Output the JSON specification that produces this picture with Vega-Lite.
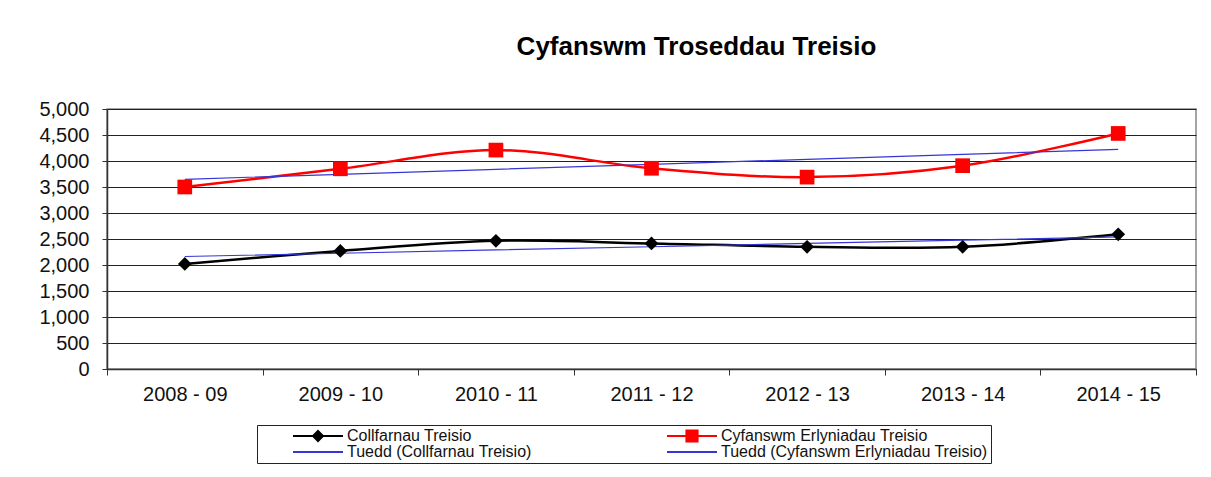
{
  "$schema": "https://vega.github.io/schema/vega-lite/v6.json",
  "width": 1089,
  "height": 260,
  "autosize": {"type": "none"},
  "padding": {"left": 107, "top": 109, "right": 15, "bottom": 108},
  "background": "white",
  "title": {
    "text": "Cyfanswm Troseddau Treisio",
    "font": "Liberation Sans",
    "fontSize": 26,
    "fontWeight": "bold",
    "color": "black",
    "anchor": "middle",
    "frame": "group",
    "dx": 45,
    "baseline": "alphabetic",
    "offset": 18
  },
  "data": {
    "values": [
      {"year": "2008 - 09", "series": "Collfarnau Treisio", "value": 2020},
      {"year": "2009 - 10", "series": "Collfarnau Treisio", "value": 2270},
      {"year": "2010 - 11", "series": "Collfarnau Treisio", "value": 2465},
      {"year": "2011 - 12", "series": "Collfarnau Treisio", "value": 2415},
      {"year": "2012 - 13", "series": "Collfarnau Treisio", "value": 2350},
      {"year": "2013 - 14", "series": "Collfarnau Treisio", "value": 2350},
      {"year": "2014 - 15", "series": "Collfarnau Treisio", "value": 2590},
      {"year": "2008 - 09", "series": "Cyfanswm Erlyniadau Treisio", "value": 3500},
      {"year": "2009 - 10", "series": "Cyfanswm Erlyniadau Treisio", "value": 3850},
      {"year": "2010 - 11", "series": "Cyfanswm Erlyniadau Treisio", "value": 4210},
      {"year": "2011 - 12", "series": "Cyfanswm Erlyniadau Treisio", "value": 3860},
      {"year": "2012 - 13", "series": "Cyfanswm Erlyniadau Treisio", "value": 3690},
      {"year": "2013 - 14", "series": "Cyfanswm Erlyniadau Treisio", "value": 3910},
      {"year": "2014 - 15", "series": "Cyfanswm Erlyniadau Treisio", "value": 4530},
      {"year": "2008 - 09", "series": "Tuedd (Collfarnau Treisio)", "value": 2163},
      {"year": "2009 - 10", "series": "Tuedd (Collfarnau Treisio)", "value": 2226},
      {"year": "2010 - 11", "series": "Tuedd (Collfarnau Treisio)", "value": 2289},
      {"year": "2011 - 12", "series": "Tuedd (Collfarnau Treisio)", "value": 2351},
      {"year": "2012 - 13", "series": "Tuedd (Collfarnau Treisio)", "value": 2414},
      {"year": "2013 - 14", "series": "Tuedd (Collfarnau Treisio)", "value": 2477},
      {"year": "2014 - 15", "series": "Tuedd (Collfarnau Treisio)", "value": 2540},
      {"year": "2008 - 09", "series": "Tuedd (Cyfanswm Erlyniadau Treisio)", "value": 3648},
      {"year": "2009 - 10", "series": "Tuedd (Cyfanswm Erlyniadau Treisio)", "value": 3744},
      {"year": "2010 - 11", "series": "Tuedd (Cyfanswm Erlyniadau Treisio)", "value": 3840},
      {"year": "2011 - 12", "series": "Tuedd (Cyfanswm Erlyniadau Treisio)", "value": 3936},
      {"year": "2012 - 13", "series": "Tuedd (Cyfanswm Erlyniadau Treisio)", "value": 4032},
      {"year": "2013 - 14", "series": "Tuedd (Cyfanswm Erlyniadau Treisio)", "value": 4128},
      {"year": "2014 - 15", "series": "Tuedd (Cyfanswm Erlyniadau Treisio)", "value": 4224}
    ]
  },
  "encoding": {
    "x": {
      "field": "year",
      "type": "ordinal",
      "sort": null,
      "scale": {"type": "band", "paddingInner": 0, "paddingOuter": 0},
      "axis": {
        "title": null,
        "labelAngle": 0,
        "labelFont": "Liberation Sans",
        "labelFontSize": 20,
        "labelColor": "#111",
        "labelPadding": 9,
        "tickBand": "extent",
        "tickSize": 6,
        "tickColor": "#333",
        "domainColor": "#333",
        "domainWidth": 1.5,
        "grid": false
      }
    },
    "y": {
      "field": "value",
      "type": "quantitative",
      "scale": {"domain": [0, 5000], "nice": false},
      "axis": {
        "title": null,
        "values": [0, 500, 1000, 1500, 2000, 2500, 3000, 3500, 4000, 4500, 5000],
        "format": ",d",
        "labelFont": "Liberation Sans",
        "labelFontSize": 20,
        "labelColor": "#111",
        "labelPadding": 13,
        "tickSize": 5,
        "tickColor": "#333",
        "domainColor": "#333",
        "domainWidth": 1.5,
        "grid": true,
        "gridColor": "#222",
        "gridWidth": 1.2
      }
    }
  },
  "layer": [
    {
      "transform": [{"filter": "datum.series === 'Collfarnau Treisio' || datum.series === 'Cyfanswm Erlyniadau Treisio'"}],
      "mark": {"type": "line", "interpolate": "catmull-rom", "strokeWidth": 2.5},
      "encoding": {
        "color": {
          "field": "series",
          "type": "nominal",
          "scale": {
            "domain": ["Collfarnau Treisio", "Cyfanswm Erlyniadau Treisio", "Tuedd (Collfarnau Treisio)", "Tuedd (Cyfanswm Erlyniadau Treisio)"],
            "range": ["#000000", "#ff0000", "#3535d8", "#3535d8"]
          },
          "legend": {
            "title": null,
            "orient": "none",
            "direction": "horizontal",
            "legendX": 150,
            "legendY": 316,
            "columns": 2,
            "columnPadding": 102,
            "rowPadding": 0,
            "padding": 3,
            "clipHeight": 16,
            "strokeColor": "#222",
            "fillColor": "white",
            "symbolSize": 6400,
            "symbolOffset": 17,
            "symbolStrokeWidth": 2,
            "labelFont": "Liberation Sans",
            "labelFontSize": 16,
            "labelColor": "#111",
            "labelOffset": -12,
            "labelLimit": 400,
            "encoding": {
              "symbols": {
                "shape": {"value": {"expr": "datum.value === 'Collfarnau Treisio' ? 'M-0.625,0H0.625M0,-0.125L0.125,0L0,0.125L-0.125,0Z' : (datum.value === 'Cyfanswm Erlyniadau Treisio' ? 'M-0.625,0H0.625M-0.14,-0.14H0.14V0.14H-0.14Z' : 'M-0.625,0H0.625')"}},
                "fill": {"value": {"expr": "datum.value === 'Collfarnau Treisio' ? '#000000' : (datum.value === 'Cyfanswm Erlyniadau Treisio' ? '#ff0000' : 'transparent')"}},
                "stroke": {"value": {"expr": "datum.value === 'Collfarnau Treisio' ? '#000000' : (datum.value === 'Cyfanswm Erlyniadau Treisio' ? '#ff0000' : '#3535d8')"}},
                "opacity": {"value": 1}
              }
            }
          }
        }
      }
    },
    {
      "transform": [{"filter": "datum.series !== 'Collfarnau Treisio' && datum.series !== 'Cyfanswm Erlyniadau Treisio'"}],
      "mark": {"type": "line", "strokeWidth": 1.2},
      "encoding": {
        "color": {"field": "series", "type": "nominal"}
      }
    },
    {
      "transform": [{"filter": "datum.series === 'Collfarnau Treisio'"}],
      "mark": {"type": "point", "shape": "diamond", "filled": true, "size": 190, "color": "#000000", "opacity": 1}
    },
    {
      "transform": [{"filter": "datum.series === 'Cyfanswm Erlyniadau Treisio'"}],
      "mark": {"type": "point", "shape": "square", "filled": true, "size": 216, "color": "#ff0000", "opacity": 1}
    }
  ],
  "config": {
    "view": {"stroke": "#888", "strokeWidth": 1.5}
  }
}
